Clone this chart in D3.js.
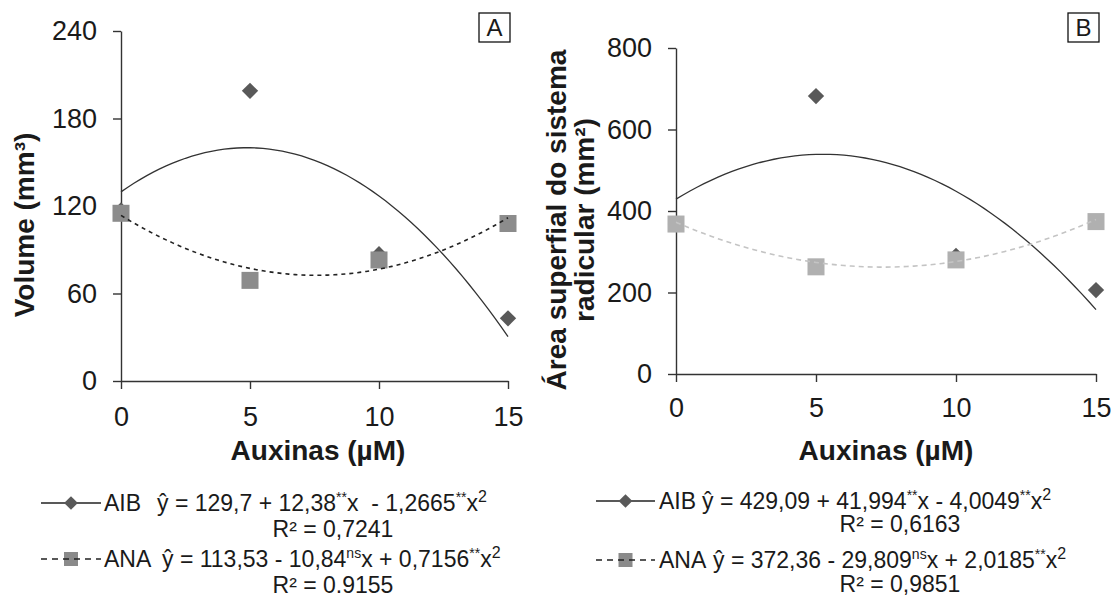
<!DOCTYPE html>
<html><head><meta charset="utf-8">
<script src="https://cdn.jsdelivr.net/npm/d3@7"></script>
<style>
body{margin:0;background:#fff;}
svg{display:block;}
text{font-family:"Liberation Sans",Arial,sans-serif;fill:#1a1a1a;white-space:pre;}
</style></head>
<body>
<svg id="chart" width="1113" height="598"></svg>
<script>
// ---------- data ----------
const xVals = [0, 5, 10, 15];
const xTicks = [0, 5, 10, 15];
const volTicks = [0, 60, 120, 180, 240];
const areaTicks = [0, 200, 400, 600, 800];
const volAIB = [117, 199, 87, 43];
const volANA = [115, 69, 83, 108];
const areaAIB = [368, 682, 290, 206];
const areaANA = [368, 263, 280, 374];
const volCoefAIB = [129.7, 12.38, -1.2665];
const volCoefANA = [113.53, -10.84, 0.7156];
const areaCoefAIB = [429.09, 41.994, -4.0049];
const areaCoefANA = [372.36, -29.809, 2.0185];
const seriesNames = ["AIB", "ANA"];
const xTitle = "Auxinas (µM)";
const volTitle = ["Volume (mm³)"];
const areaTitle = ["Área superfial do sistema", "radicular (mm²)"];
const panelLetters = ["A", "B"];
const volEq = [
  [["ŷ = 129,7 + 12,38"], ["**", 1], ["x  - 1,2665"], ["**", 1], ["x"], ["2", 2]],
  [["ŷ = 113,53 - 10,84"], ["ns", 1], ["x + 0,7156"], ["**", 1], ["x"], ["2", 2]]
];
const volR2 = ["R² = 0,7241", "R² = 0.9155"];
const areaEq = [
  [["ŷ = 429,09 + 41,994"], ["**", 1], ["x - 4,0049"], ["**", 1], ["x"], ["2", 2]],
  [["ŷ = 372,36 - 29,809"], ["ns", 1], ["x + 2,0185"], ["**", 1], ["x"], ["2", 2]]
];
const areaR2 = ["R² = 0,6163", "R² = 0,9851"];

const svg = d3.select("#chart");
const curveX = d3.range(0, 15.001, 0.25);

function panel(cfg) {
  const g = svg.append("g");
  const x = d3.scaleLinear().domain([0, 15]).range([cfg.x0, cfg.x1]);
  const y = d3.scaleLinear().domain([0, cfg.ymax]).range([cfg.y0, cfg.y1]);

  // axes
  const ya = g.append("g").attr("transform", `translate(${cfg.x0},0)`)
    .call(d3.axisLeft(y).tickValues(cfg.yTicks).tickSize(8).tickPadding(16).tickSizeOuter(0));
  const xa = g.append("g").attr("transform", `translate(0,${cfg.y0})`)
    .call(d3.axisBottom(x).tickValues(xTicks).tickSize(8).tickPadding(cfg.xPad).tickSizeOuter(0));
  [ya, xa].forEach(a => {
    a.select(".domain").attr("stroke", "#333").attr("stroke-width", 1.4);
    a.selectAll(".tick line").attr("stroke", "#333").attr("stroke-width", 1.4);
    a.selectAll(".tick text").attr("font-size", 27).attr("fill", "#1a1a1a")
      .style("font-family", '"Liberation Sans",Arial,sans-serif');
  });

  // markers: AIB diamonds, then ANA squares
  const diamond = d3.symbol().type(d3.symbolDiamond2).size(170);
  g.selectAll(".dia").data(xVals.map((v, i) => [v, cfg.aib[i]])).join("path")
    .attr("d", diamond).attr("fill", "#595959")
    .attr("transform", d => `translate(${x(d[0])},${y(d[1])})`);
  g.selectAll(".sq").data(xVals.map((v, i) => [v, cfg.ana[i]])).join("rect")
    .attr("x", d => x(d[0]) - 8.5).attr("y", d => y(d[1]) - 8.5)
    .attr("width", 17).attr("height", 17).attr("fill", cfg.sqColor);

  // trend curves
  const poly = (c, t) => c[0] + c[1] * t + c[2] * t * t;
  const line = (c) => d3.line().x(t => x(t)).y(t => y(poly(c, t)))(curveX);
  g.append("path").attr("d", line(cfg.coefAIB)).attr("fill", "none")
    .attr("stroke", "#333").attr("stroke-width", 1.3);
  g.append("path").attr("d", line(cfg.coefANA)).attr("fill", "none")
    .attr("stroke", cfg.dashColor).attr("stroke-width", 1.6).attr("stroke-dasharray", cfg.dash);

  // titles
  g.append("text").attr("x", cfg.xTitleX).attr("y", 460).attr("text-anchor", "middle")
    .attr("font-size", 28).attr("font-weight", "bold").text(xTitle);
  cfg.yTitle.forEach((t, i) => {
    g.append("text").attr("transform", `translate(${cfg.yTitleX + i * cfg.yTitleGap},${cfg.yTitleY}) rotate(-90)`)
      .attr("text-anchor", "middle").attr("font-size", 28).attr("font-weight", "bold").text(t);
  });

  // panel letter box
  g.append("rect").attr("x", cfg.box[0]).attr("y", 13).attr("width", 31).attr("height", 29)
    .attr("fill", "#fff").attr("stroke", "#111").attr("stroke-width", 1.3);
  g.append("text").attr("x", cfg.box[0] + 15.5).attr("y", 36).attr("text-anchor", "middle")
    .attr("font-size", 24).text(cfg.letter);

  // legend
  const L = cfg.leg;
  seriesNames.forEach((name, i) => {
    const ly = L.rows[i * 2];
    if (i === 0) {
      g.append("line").attr("x1", L.lx0).attr("x2", L.lx1).attr("y1", ly).attr("y2", ly)
        .attr("stroke", "#222").attr("stroke-width", 1.5);
      g.append("path").attr("d", d3.symbol().type(d3.symbolDiamond2).size(120))
        .attr("fill", "#595959").attr("transform", `translate(${(L.lx0 + L.lx1) / 2},${ly})`);
    } else {
      g.append("rect").attr("x", (L.lx0 + L.lx1) / 2 - 7).attr("y", ly - 7)
        .attr("width", 14).attr("height", 14).attr("fill", "#8a8a8a");
      g.append("line").attr("x1", L.lx0).attr("x2", L.lx1).attr("y1", ly).attr("y2", ly)
        .attr("stroke", "#222").attr("stroke-width", 1.5).attr("stroke-dasharray", "6,5");
    }
    g.append("text").attr("x", L.nameX).attr("y", ly + 8).attr("font-size", 23).text(name);
    const t = g.append("text").attr("x", L.eqX[i]).attr("y", ly + 8).attr("font-size", 23);
    let shift = 0;
    cfg.eq[i].forEach(seg => {
      const ts = t.append("tspan").text(seg[0]);
      const want = seg[1] ? -9 : 0;
      if (seg[1] === 1) ts.attr("font-size", 14);
      else if (seg[1] === 2) ts.attr("font-size", 16);
      ts.attr("dy", want - shift);
      shift = want;
    });
    g.append("text").attr("x", L.r2X).attr("y", L.rows[i * 2 + 1] + 8).attr("text-anchor", "middle")
      .attr("font-size", 23).text(cfg.r2[i]);
  });
}

panel({
  x0: 121, x1: 508, y0: 381, y1: 31, ymax: 240, yTicks: volTicks, xPad: 18,
  aib: volAIB, ana: volANA, sqColor: "#8c8c8c", dashColor: "#222", dash: "4,4",
  coefAIB: volCoefAIB, coefANA: volCoefANA,
  xTitleX: 318, yTitle: volTitle, yTitleX: 34, yTitleGap: 0, yTitleY: 225,
  box: [479], letter: panelLetters[0],
  eq: volEq, r2: volR2,
  leg: { rows: [503, 529, 559, 585], lx0: 41, lx1: 101, nameX: 104, eqX: [157, 162], r2X: 333 }
});
panel({
  x0: 676, x1: 1096, y0: 374, y1: 48, ymax: 800, yTicks: areaTicks, xPad: 16,
  aib: areaAIB, ana: areaANA, sqColor: "#b0b0b0", dashColor: "#c4c4c4", dash: "5,4",
  coefAIB: areaCoefAIB, coefANA: areaCoefANA,
  xTitleX: 886, yTitle: areaTitle, yTitleX: 566, yTitleGap: 28, yTitleY: 220,
  box: [1068], letter: panelLetters[1],
  eq: areaEq, r2: areaR2,
  leg: { rows: [501, 524, 560, 584], lx0: 596, lx1: 655, nameX: 659, eqX: [702, 713], r2X: 900 }
});
</script>
</body></html>
